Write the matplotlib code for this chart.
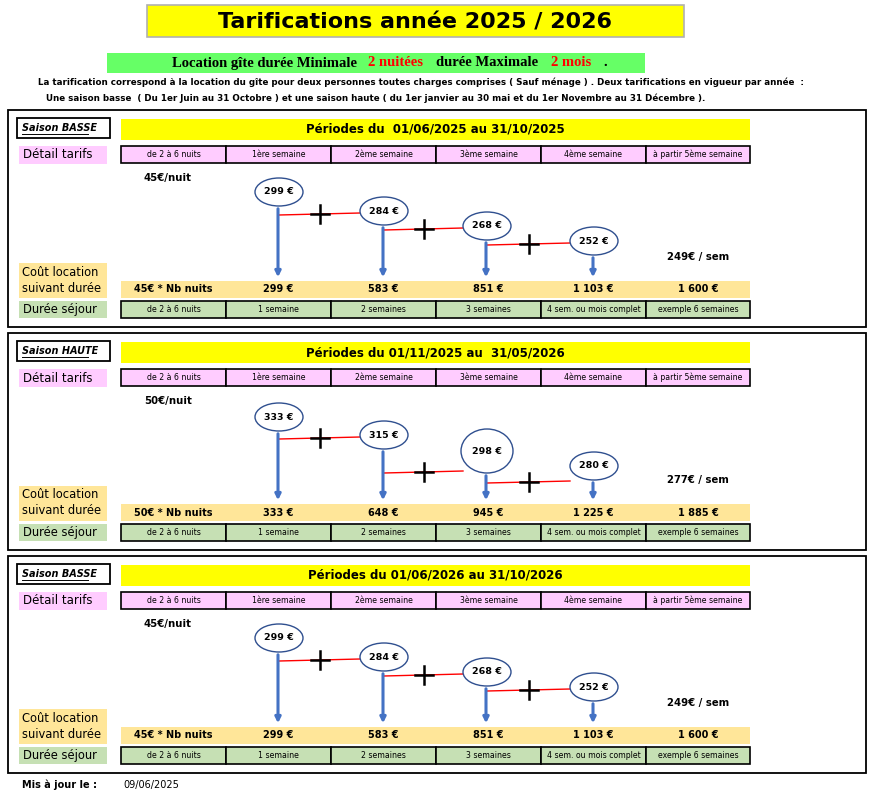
import matplotlib
matplotlib.use("Agg")
import matplotlib.pyplot as plt
from matplotlib.patches import Rectangle, Ellipse

season_labels = ["Saison BASSE", "Saison HAUTE", "Saison BASSE"]
period_titles = ["Périodes du  01/06/2025 au 31/10/2025",
                 "Périodes du 01/11/2025 au  31/05/2026",
                 "Périodes du 01/06/2026 au 31/10/2026"]
nightly = ["45€/nuit", "50€/nuit", "45€/nuit"]
weekly = [[299, 284, 268, 252], [333, 315, 298, 280], [299, 284, 268, 252]]
after5 = ["249€ / sem", "277€ / sem", "249€ / sem"]
totals = [["45€ * Nb nuits", "299 €", "583 €", "851 €", "1 103 €", "1 600 €"],
          ["50€ * Nb nuits", "333 €", "648 €", "945 €", "1 225 €", "1 885 €"],
          ["45€ * Nb nuits", "299 €", "583 €", "851 €", "1 103 €", "1 600 €"]]
detail_cells = ["de 2 à 6 nuits", "1ère semaine", "2ème semaine", "3ème semaine",
                "4ème semaine", "à partir 5ème semaine"]
duree_cells = ["de 2 à 6 nuits", "1 semaine", "2 semaines", "3 semaines",
               "4 sem. ou mois complet", "exemple 6 semaines"]

W, H = 877, 794
fig = plt.figure(figsize=(W/100, H/100), dpi=100)
ax = fig.add_axes([0, 0, 1, 1])
ax.set_xlim(0, W); ax.set_ylim(H, 0); ax.axis("off")

F = "DejaVu Sans"
def rect(x0, y0, x1, y1, fc="none", ec="none", lw=1.0, z=1):
    ax.add_patch(Rectangle((x0, y0), x1-x0, y1-y0, fc=fc, ec=ec, lw=lw, zorder=z))

# header
rect(147, 5, 684, 37, fc="#ffff00", ec="#b0b0b0", lw=1.2)
ax.text(415, 22, "Tarifications année 2025 / 2026", ha="center", va="center",
        fontsize=16, fontweight="bold", family=F)
rect(107, 53, 645, 73, fc="#66ff66")
parts = [(172, "Location gîte durée Minimale", "black"), (368, "2 nuitées", "red"),
         (436, "durée Maximale", "black"), (551, "2 mois", "red"), (603, ".", "black")]
for x, s, c in parts:
    ax.text(x, 63, s, ha="left", va="center", fontsize=10.5, fontweight="bold",
            family="Liberation Serif", color=c)
ax.text(38, 82, "La tarification correspond à la location du gîte pour deux personnes toutes charges comprises ( Sauf ménage ) . Deux tarifications en vigueur par année  :",
        fontsize=6.3, fontweight="bold", va="center", family=F)
ax.text(46, 98, "Une saison basse  ( Du 1er Juin au 31 Octobre ) et une saison haute ( du 1er janvier au 30 mai et du 1er Novembre au 31 Décembre ).",
        fontsize=6.3, fontweight="bold", va="center", family=F)

edges = [121, 226, 331, 436, 541, 646, 750]
centers = [(edges[i]+edges[i+1])/2 for i in range(6)]
tops = [110, 333, 556]
circ_dy = [[82, 101, 116, 131], [84, 102, 118, 133], [82, 101, 116, 131]]
circ_x = [279, 384, 487, 594]

for p, t in enumerate(tops):
    rect(8, t, 866, t+217, ec="black", lw=1.3)
    rect(17, t+8, 110, t+28, ec="black", lw=1.3)
    ax.text(22, t+18, season_labels[p], fontsize=7, fontstyle="italic",
            fontweight="bold", va="center", family=F)
    ax.plot([22, 88], [t+24, t+24], color="black", lw=0.7)
    rect(121, t+9, 750, t+30, fc="#ffff00")
    ax.text(435, t+19.5, period_titles[p], ha="center", va="center", fontsize=8.5,
            fontweight="bold", family=F)
    rect(19, t+36, 107, t+54, fc="#ffccff")
    ax.text(23, t+45, "Détail tarifs", fontsize=8.5, va="center", family=F)
    for i in range(6):
        rect(edges[i], t+36, edges[i+1], t+53, fc="#ffccff", ec="black", lw=1.2)
        ax.text(centers[i], t+44.5, detail_cells[i], fontsize=5.6, ha="center", va="center", family=F)
    ax.text(168, t+68, nightly[p], fontsize=7.3, fontweight="bold", ha="center", va="center", family=F)
    for k in range(4):
        cx, cy = circ_x[k], t+circ_dy[p][k]
        big = (p == 1 and k == 2)
        h = 44 if big else 28
        w = 52 if big else 48
        ax.add_patch(Ellipse((cx, cy), w, h, fc="white", ec="#2f4f8f", lw=1.0, zorder=4))
        ax.text(cx, cy, f"{weekly[p][k]} €", fontsize=6.8, fontweight="bold",
                ha="center", va="center", zorder=5, family=F)
        ax.annotate("", xy=(cx-1, t+170), xytext=(cx-1, cy+h/2),
                    arrowprops=dict(arrowstyle="-|>", color="#4472c4", lw=2.2,
                                    mutation_scale=8), zorder=3)
        if k < 3:
            nx, ny = circ_x[k+1], t+circ_dy[p][k+1]
            yl = ny + 4
            if p == 1 and k == 1:
                yl = ny + 22
            if p == 1 and k == 2:
                yl = ny + 17
            x1 = nx - 24
            ax.plot([cx, x1], [yl, yl-2], color="red", lw=1.0, zorder=2)
            mx, my = (cx+x1)/2, yl-1
            ax.plot([mx-9, mx+9], [my, my], color="black", lw=1.8, zorder=3)
            ax.plot([mx, mx], [my-9, my+9], color="black", lw=1.8, zorder=3)
    ax.text(698, t+147, after5[p], fontsize=7.3, fontweight="bold", ha="center", va="center", family=F)
    rect(19, t+153, 107, t+188, fc="#ffe699")
    ax.text(22, t+162, "Coût location", fontsize=8.3, va="center", family=F)
    ax.text(22, t+178, "suivant durée", fontsize=8.3, va="center", family=F)
    rect(121, t+171, 750, t+188, fc="#ffe699")
    for i in range(6):
        ax.text(centers[i], t+179.5, totals[p][i], fontsize=7, fontweight="bold",
                ha="center", va="center", family=F)
    rect(19, t+191, 107, t+208, fc="#c6e0b4")
    ax.text(23, t+199.5, "Durée séjour", fontsize=8.3, va="center", family=F)
    for i in range(6):
        rect(edges[i], t+191, edges[i+1], t+208, fc="#c6e0b4", ec="black", lw=1.2)
        ax.text(centers[i], t+199.5, duree_cells[i], fontsize=5.6, ha="center", va="center", family=F)

ax.text(22, 785, "Mis à jour le :", fontsize=7, fontweight="bold", va="center", family=F)
ax.text(123, 785, "09/06/2025", fontsize=7, va="center", family=F)

fig.savefig("out.png", dpi=100)
